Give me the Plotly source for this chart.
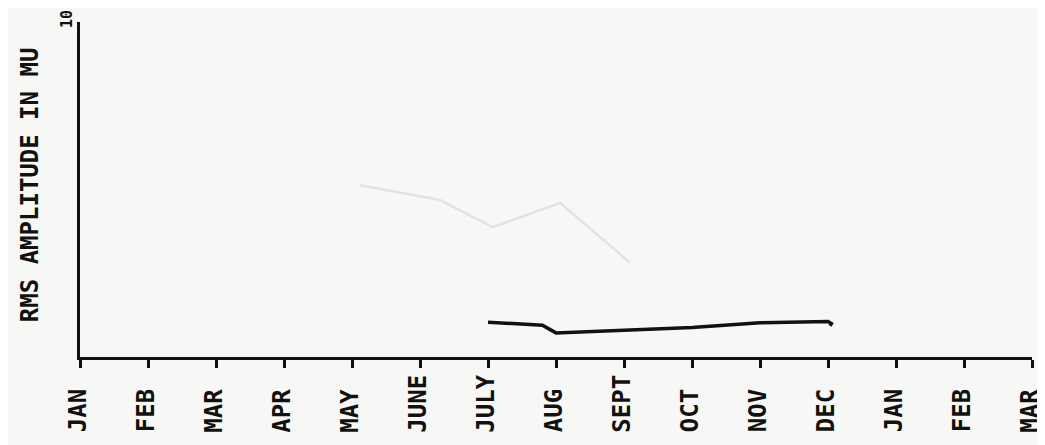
import plotly.graph_objects as go

# Month axis (index 0 = JAN of first year)
month_labels = ["JAN", "FEB", "MAR", "APR", "MAY", "JUNE", "JULY", "AUG",
                "SEPT", "OCT", "NOV", "DEC", "JAN", "FEB", "MAR"]
month_pos = list(range(len(month_labels)))

# RMS amplitude curve (month index, amplitude in MU)
rms_month = [6.0, 6.4, 6.8, 7.0, 8.0, 9.0, 10.0, 11.0, 11.05, 11.03]
rms_value = [1.04, 1.00, 0.95, 0.72, 0.80, 0.88, 1.02, 1.06, 1.00, 0.93]

# faint show-through curve from the reverse page
ghost_month = [4.12, 5.29, 6.07, 7.06, 7.84, 8.09]
ghost_value = [5.13, 4.69, 3.88, 4.60, 3.25, 2.81]

y_ticks = [10]
y_tick_text = ["10"]
y_title = "RMS AMPLITUDE IN MU"

FONT = "DejaVu Sans Mono"
paper = "#f7f7f5"

fig = go.Figure()
fig.add_trace(go.Scatter(x=ghost_month, y=ghost_value, mode="lines",
                         line=dict(color="#e2e2e0", width=2.5),
                         hoverinfo="skip", showlegend=False))
fig.add_trace(go.Scatter(x=rms_month, y=rms_value, mode="lines",
                         line=dict(color="#111111", width=3.5),
                         showlegend=False))

annotations = []
for pos, lab in zip(month_pos, month_labels):
    annotations.append(dict(x=pos, xref="x", y=-0.232, yref="paper",
                            text="<b>" + lab + "</b>", textangle=-90,
                            xanchor="center", yanchor="bottom", xshift=-2,
                            showarrow=False,
                            font=dict(family=FONT, size=24, color="#111")))
for v, t in zip(y_ticks, y_tick_text):
    annotations.append(dict(x=-0.0137, xref="paper", y=v, yref="y",
                            text="<b>" + t + "</b>", textangle=-90,
                            xanchor="center", yanchor="bottom", yshift=-8,
                            showarrow=False,
                            font=dict(family=FONT, size=15, color="#111")))
annotations.append(dict(x=-0.0525, xref="paper", y=0.513, yref="paper",
                        text="<b>" + y_title + "</b>", textangle=-90,
                        xanchor="center", yanchor="middle", showarrow=False,
                        font=dict(family=FONT, size=24, color="#111")))

fig.update_layout(
    width=1037, height=437,
    margin=dict(l=72, r=13, t=14, b=88),
    paper_bgcolor=paper, plot_bgcolor=paper,
    annotations=annotations,
    xaxis=dict(range=[0, 14], tickvals=month_pos, showticklabels=False,
               ticks="outside", ticklen=8, tickwidth=3, tickcolor="#111",
               showline=True, linecolor="#111", linewidth=3,
               showgrid=False, zeroline=False, fixedrange=True),
    yaxis=dict(range=[0, 10], tickvals=y_ticks, showticklabels=False,
               ticks="inside", ticklen=18, tickwidth=3, tickcolor="#111",
               showline=True, linecolor="#111", linewidth=3,
               showgrid=False, zeroline=False, fixedrange=True),
)

fig.write_html("out.html")
